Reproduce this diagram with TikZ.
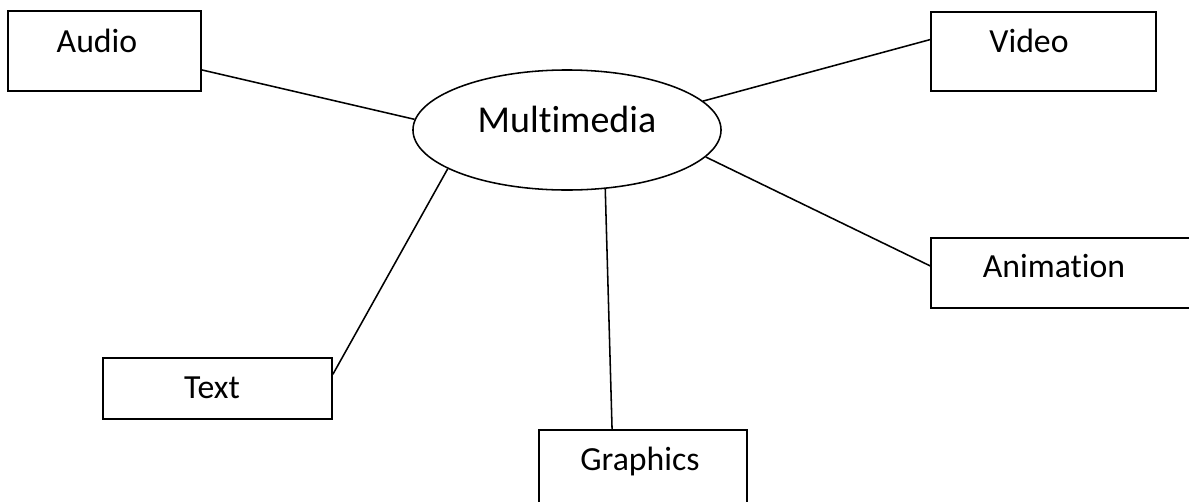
\documentclass[tikz,border=0pt]{standalone}
\usepackage{fontspec}
\setmainfont{Carlito}[Ligatures={NoCommon}]
\usetikzlibrary{shapes.geometric}

\tikzset{
  box/.style={draw, rectangle, line width=1.2pt, inner sep=0pt},
  word/.style={anchor=base, inner sep=0pt, font=\fontsize{24}{28}\selectfont},
  link/.style={line width=1.1pt}
}

\begin{document}
\begin{tikzpicture}[x=0.025cm, y=-0.025cm]
\clip (0,0) rectangle (1189,501);
\fill[white] (0,0) rectangle (1189,501);
\node[draw, ellipse, line width=1.1pt, inner sep=0pt, minimum width=7.7cm, minimum height=3cm] (MM) at (567,130) {};
\node[word, font=\fontsize{27}{32}\selectfont] (MMtxt) at (567,132) {Multimedia};
\node[box, minimum width=4.825cm, minimum height=2cm] (Au) at (104.5,51) {};
\node[word] (Autxt) at (97,52) {Audio};
\node[box, minimum width=5.625cm, minimum height=1.975cm] (Vi) at (1043.5,51.5) {};
\node[word] (Vitxt) at (1029,52) {Video};
\node[box, minimum width=6.75cm, minimum height=1.75cm] (An) at (1066,273) {};
\node[word] (Antxt) at (1054,277) {Animation};
\node[box, minimum width=5.725cm, minimum height=1.525cm] (Te) at (217.5,388.5) {};
\node[word] (Tetxt) at (212,398) {Text};
\node[box, minimum width=5.2cm, minimum height=2.25cm] (Gr) at (643,475) {};
\node[word] (Grtxt) at (640,470) {Graphics};
\draw[link] (Au.-11) -- (MM.176);
\draw[link] (Vi.174) -- (MM.12);
\draw[link] (An.177) -- (MM.-11);
\draw[link] (Te.7) -- (MM.198.6);
\draw[link] (Gr.124.6) -- (MM.-57.5);
\end{tikzpicture}
\end{document}
